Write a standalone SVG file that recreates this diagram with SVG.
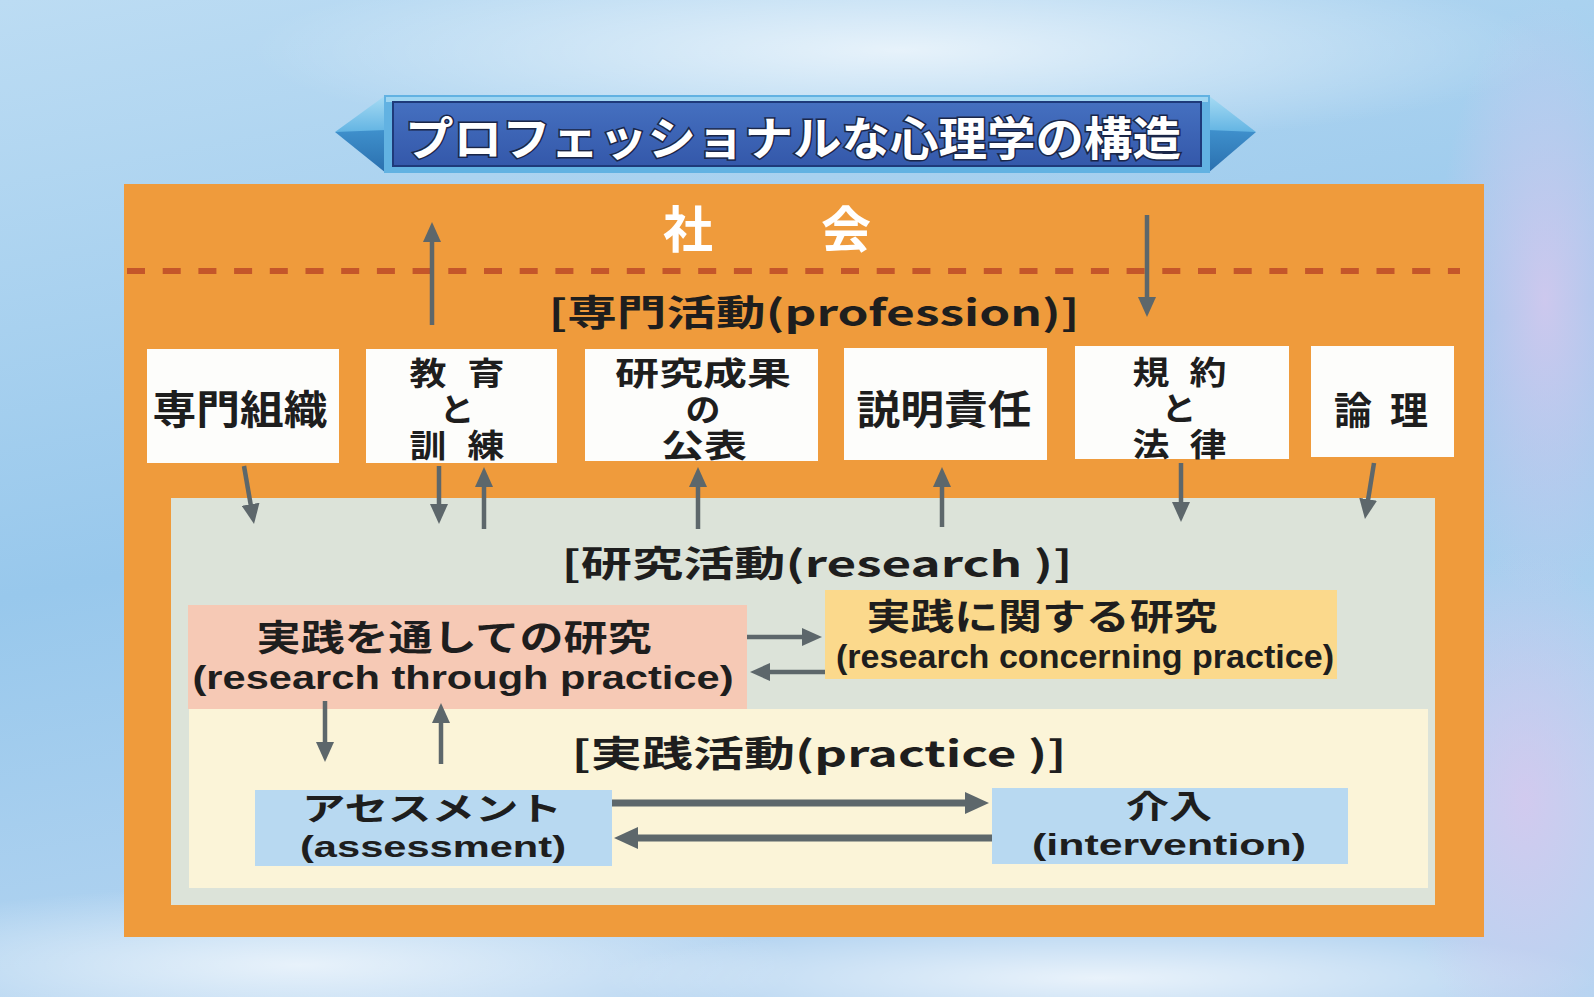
<svg xmlns="http://www.w3.org/2000/svg" width="1594" height="997" viewBox="0 0 1594 997">
<defs>
<linearGradient id="bg" x1="0" y1="0" x2="0.3" y2="1">
<stop offset="0" stop-color="#bcdcf3"/>
<stop offset="0.55" stop-color="#98c8ec"/>
<stop offset="1" stop-color="#b6d5f1"/>
</linearGradient>
<radialGradient id="cw" cx="0.5" cy="0.5" r="0.5">
<stop offset="0" stop-color="#ffffff" stop-opacity="0.7"/>
<stop offset="1" stop-color="#ffffff" stop-opacity="0"/>
</radialGradient>
<radialGradient id="cp" cx="0.5" cy="0.5" r="0.5">
<stop offset="0" stop-color="#d6c8ee" stop-opacity="0.85"/>
<stop offset="1" stop-color="#d6c8ee" stop-opacity="0"/>
</radialGradient>
<linearGradient id="tipTop" x1="0" y1="0" x2="0" y2="1">
<stop offset="0" stop-color="#a8dcf4"/>
<stop offset="1" stop-color="#5fb2e2"/>
</linearGradient>
<linearGradient id="tipBot" x1="0" y1="0" x2="0" y2="1">
<stop offset="0" stop-color="#3f90cc"/>
<stop offset="1" stop-color="#2a6fae"/>
</linearGradient>
<linearGradient id="bannerFill" x1="0" y1="0" x2="0" y2="1">
<stop offset="0" stop-color="#4570c0"/>
<stop offset="1" stop-color="#3458aa"/>
</linearGradient>
<marker id="ah" viewBox="0 0 20 18" refX="4" refY="9" markerWidth="20" markerHeight="18" markerUnits="userSpaceOnUse" orient="auto">
<path d="M0,0 L20,9 L0,18 z" fill="#5d676b"/>
</marker>
<marker id="ahb" viewBox="0 0 24 22" refX="4" refY="11" markerWidth="24" markerHeight="22" markerUnits="userSpaceOnUse" orient="auto">
<path d="M0,0 L24,11 L0,22 z" fill="#5d676b"/>
</marker>
</defs>
<style>
.t{font-family:"Noto Sans CJK JP","Noto Sans CJK SC",sans-serif;font-weight:700;fill:#1e1e1e;text-anchor:middle;dominant-baseline:central}
.tm{font-family:"Liberation Sans","Noto Sans CJK JP",sans-serif;font-weight:700;fill:#1e1e1e;text-anchor:middle;dominant-baseline:central}
.box{fill:#fdfdfb}
.arr{stroke:#5d676b;stroke-width:4.5;fill:none;marker-end:url(#ah)}
.arrb{stroke:#5d676b;stroke-width:7;fill:none;marker-end:url(#ahb)}
</style>

<!-- background -->
<rect x="0" y="0" width="1594" height="997" fill="url(#bg)"/>
<ellipse cx="900" cy="50" rx="650" ry="100" fill="url(#cw)"/>
<ellipse cx="300" cy="965" rx="500" ry="80" fill="url(#cw)"/>
<ellipse cx="1100" cy="978" rx="500" ry="55" fill="url(#cw)"/>
<ellipse cx="1545" cy="300" rx="110" ry="300" fill="url(#cp)"/>
<ellipse cx="1525" cy="800" rx="130" ry="250" fill="url(#cp)"/>

<!-- title banner -->
<g id="title">
<polygon points="335,132 386,95 386,134" fill="url(#tipTop)"/>
<polygon points="335,132 386,130 386,173" fill="url(#tipBot)"/>
<polygon points="1256,132 1208,95 1208,134" fill="url(#tipTop)"/>
<polygon points="1256,132 1208,130 1208,173" fill="url(#tipBot)"/>
<rect x="384" y="95" width="826" height="78" fill="#62b2e2"/>
<rect x="386" y="97" width="822" height="5" fill="#9fd6f2"/>
<rect x="393" y="102" width="808" height="64" fill="url(#bannerFill)" stroke="#1e3a7a" stroke-width="2"/>
<text class="t" x="793" y="135" font-size="46" textLength="776" lengthAdjust="spacingAndGlyphs" style="fill:#ffffff;stroke:#1a2648;stroke-width:3;paint-order:stroke">プロフェッショナルな心理学の構造</text>
</g>

<!-- society / profession area -->
<g id="society">
<rect x="124" y="184" width="1360" height="753" fill="#ef9b3c"/>
<text class="t" x="688 846" y="226" font-size="50" style="fill:#ffffff">社会</text>
<line x1="127" y1="271" x2="1460" y2="271" stroke="#c4562a" stroke-width="6" stroke-dasharray="18 17.7"/>
<text class="t" x="814" y="310" font-size="36" textLength="531" lengthAdjust="spacingAndGlyphs">[専門活動(profession)]</text>
</g>

<!-- research area -->
<g id="research">
<rect x="171" y="498" width="1264" height="407" fill="#dce3d9"/>
<text class="t" x="817" y="561" font-size="36" textLength="511" lengthAdjust="spacingAndGlyphs">[研究活動(research )]</text>
</g>

<!-- practice area -->
<g id="practice">
<rect x="189" y="709" width="1239" height="179" fill="#fbf4d8"/>
<text class="t" x="819" y="751" font-size="36" textLength="495" lengthAdjust="spacingAndGlyphs">[実践活動(practice )]</text>
</g>

<!-- profession boxes -->
<g id="box-senmon-soshiki">
<rect class="box" x="147" y="349" width="192" height="114"/>
<text class="t" x="240" y="407" font-size="40" textLength="175" lengthAdjust="spacingAndGlyphs">専門組織</text>
</g>
<g id="box-kyoiku">
<rect class="box" x="366" y="349" width="191" height="114"/>
<text class="tm" font-size="32"><tspan x="428" y="374" textLength="37" lengthAdjust="spacingAndGlyphs">教</tspan><tspan x="486" y="374" textLength="37" lengthAdjust="spacingAndGlyphs">育</tspan><tspan x="457" y="410" textLength="35" lengthAdjust="spacingAndGlyphs">と</tspan><tspan x="428" y="446" textLength="37" lengthAdjust="spacingAndGlyphs">訓</tspan><tspan x="486" y="446" textLength="37" lengthAdjust="spacingAndGlyphs">練</tspan></text>
</g>
<g id="box-kenkyu-seika">
<rect class="box" x="585" y="349" width="233" height="112"/>
<text class="tm" font-size="32"><tspan x="703" y="374" textLength="176" lengthAdjust="spacingAndGlyphs">研究成果</tspan><tspan x="703" y="410" textLength="35" lengthAdjust="spacingAndGlyphs">の</tspan><tspan x="704" y="446" textLength="86" lengthAdjust="spacingAndGlyphs">公表</tspan></text>
</g>
<g id="box-setsumei">
<rect class="box" x="844" y="348" width="203" height="112"/>
<text class="t" x="944" y="407" font-size="40" textLength="175" lengthAdjust="spacingAndGlyphs">説明責任</text>
</g>
<g id="box-kiyaku">
<rect class="box" x="1075" y="346" width="214" height="113"/>
<text class="tm" font-size="32"><tspan x="1151" y="373" textLength="37" lengthAdjust="spacingAndGlyphs">規</tspan><tspan x="1208" y="373" textLength="37" lengthAdjust="spacingAndGlyphs">約</tspan><tspan x="1179" y="409" textLength="35" lengthAdjust="spacingAndGlyphs">と</tspan><tspan x="1151" y="445" textLength="37" lengthAdjust="spacingAndGlyphs">法</tspan><tspan x="1208" y="445" textLength="37" lengthAdjust="spacingAndGlyphs">律</tspan></text>
</g>
<g id="box-ronri">
<rect class="box" x="1311" y="346" width="143" height="111"/>
<text class="t" x="1353 1409" y="407" font-size="38">論理</text>
</g>

<!-- research / practice nodes -->
<g id="node-through">
<rect x="188" y="605" width="559" height="104" fill="#f6c9b5"/>
<text class="tm"><tspan x="454" y="638" font-size="36" textLength="395" lengthAdjust="spacingAndGlyphs">実践を通しての研究</tspan><tspan x="463" y="677" font-size="33" textLength="541" lengthAdjust="spacingAndGlyphs">(research through practice)</tspan></text>
</g>
<g id="node-concerning">
<rect x="825" y="590" width="512" height="89" fill="#fbd98c"/>
<text class="tm"><tspan x="1042" y="617" font-size="36" textLength="351" lengthAdjust="spacingAndGlyphs">実践に関する研究</tspan><tspan x="1085" y="656" font-size="33" textLength="498" lengthAdjust="spacingAndGlyphs">(research concerning practice)</tspan></text>
</g>
<g id="node-assessment">
<rect x="255" y="790" width="357" height="76" fill="#b8d9f1"/>
<text class="tm"><tspan x="432" y="809" font-size="32" textLength="260" lengthAdjust="spacingAndGlyphs">アセスメント</tspan><tspan x="433" y="846" font-size="30" textLength="266" lengthAdjust="spacingAndGlyphs">(assessment)</tspan></text>
</g>
<g id="node-intervention">
<rect x="992" y="788" width="356" height="76" fill="#b8d9f1"/>
<text class="tm"><tspan x="1169" y="807" font-size="32" textLength="86" lengthAdjust="spacingAndGlyphs">介入</tspan><tspan x="1169" y="844" font-size="30" textLength="274" lengthAdjust="spacingAndGlyphs">(intervention)</tspan></text>
</g>

<!-- connectors -->
<g id="connectors">
<line class="arr" x1="432" y1="325" x2="432" y2="238"/>
<line class="arr" x1="1147" y1="215" x2="1147" y2="301"/>
<line class="arr" x1="244" y1="466" x2="251.3" y2="508.2"/>
<line class="arr" x1="439" y1="466" x2="439" y2="508"/>
<line class="arr" x1="484" y1="529" x2="484" y2="483"/>
<line class="arr" x1="698" y1="529" x2="698" y2="483"/>
<line class="arr" x1="942" y1="527" x2="942" y2="483"/>
<line class="arr" x1="1181" y1="463" x2="1181" y2="506"/>
<line class="arr" x1="1374" y1="463" x2="1367.5" y2="503.2"/>
<line class="arr" x1="747" y1="637" x2="806" y2="637"/>
<line class="arr" x1="825" y1="672" x2="766" y2="672"/>
<line class="arr" x1="325" y1="701" x2="325" y2="746"/>
<line class="arr" x1="441" y1="764" x2="441" y2="719"/>
<line class="arrb" x1="612" y1="803" x2="969" y2="803"/>
<line class="arrb" x1="992" y1="838" x2="634" y2="838"/>
</g>
</svg>
